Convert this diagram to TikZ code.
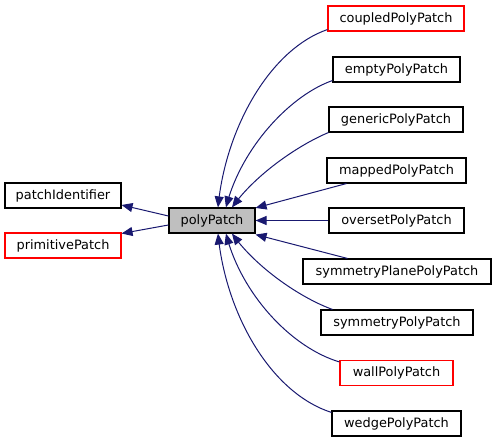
\documentclass[tikz,border=0pt]{standalone}
\usepackage{fontspec}
\setmainfont{DejaVu Sans}
\usetikzlibrary{arrows.meta,bending}
\definecolor{edgeblue}{RGB}{25,25,112}
\definecolor{redbox}{RGB}{255,0,0}
\definecolor{graybox}{RGB}{191,191,191}
\tikzset{
  cls/.style={draw=black, line width=1.1pt, fill=white, inner sep=0pt, minimum height=25pt, font=\fontsize{12.9}{15}\selectfont},
  redcls/.style={cls, draw=redbox},
  cur/.style={cls, fill=graybox},
  inh/.style={draw=edgeblue, line width=1pt, -{Triangle[length=11pt,width=9pt,bend]}}
}
\begin{document}
\begin{tikzpicture}[x=1pt,y=-1pt]
\useasboundingbox (0,0) rectangle (496,443);
\node[redcls, minimum width=136pt] (coupled) at (396,18.5) {coupledPolyPatch};
\node[cls, minimum width=127pt] (empty) at (396.5,69.5) {emptyPolyPatch};
\node[cls, minimum width=134pt] (generic) at (396,119.5) {genericPolyPatch};
\node[cls, minimum width=139pt] (mapped) at (396.5,170.5) {mappedPolyPatch};
\node[cls, minimum width=135pt] (overset) at (396.5,220.5) {oversetPolyPatch};
\node[cls, minimum width=188pt] (symplane) at (397,271.5) {symmetryPlanePolyPatch};
\node[cls, minimum width=152pt] (symmetry) at (397,322.5) {symmetryPolyPatch};
\node[redcls, minimum width=113pt] (wall) at (396.5,373) {wallPolyPatch};
\node[cls, minimum width=129pt] (wedge) at (396.5,423.5) {wedgePolyPatch};
\node[cur, minimum width=86pt] (poly) at (212,220.5) {polyPatch};
\node[cls, minimum width=116pt] (pid) at (63,195.5) {patchIdentifier};
\node[redcls, minimum width=116pt] (prim) at (63,245.5) {primitivePatch};

\draw[inh] ([yshift=2pt]coupled.south west) .. controls +(-58,20) and +(7,-78) .. ([xshift=6pt]poly.north);
\draw[inh] ([yshift=2pt]empty.south west) .. controls +(-43,15) and +(14,-58) .. ([xshift=14pt]poly.north);
\draw[inh] (generic.south west) .. controls +(-29,12) and +(23,-33) .. ([xshift=20pt]poly.north);
\draw[inh] ([xshift=20pt]mapped.south west) -- ([yshift=-0.5pt]poly.north east);
\draw[inh] (overset.west) -- (poly.east);
\draw[inh] ([xshift=45pt]symplane.north west) -- ([yshift=-1pt]poly.south east);
\draw[inh] ([xshift=12pt]symmetry.north west) .. controls +(-33,-12) and +(23,33) .. ([xshift=20pt]poly.south);
\draw[inh] ([yshift=-2pt]wall.north west) .. controls +(-50,-15) and +(14,58) .. ([xshift=14pt]poly.south);
\draw[inh] ([yshift=-2pt]wedge.north west) .. controls +(-62,-20) and +(7,78) .. ([xshift=6pt]poly.south);
\draw[inh] ([yshift=4.5pt]poly.west) -- ([yshift=-9.5pt]pid.east);
\draw[inh] ([yshift=-4.5pt]poly.west) -- ([yshift=12pt]prim.east);
\end{tikzpicture}
\end{document}
